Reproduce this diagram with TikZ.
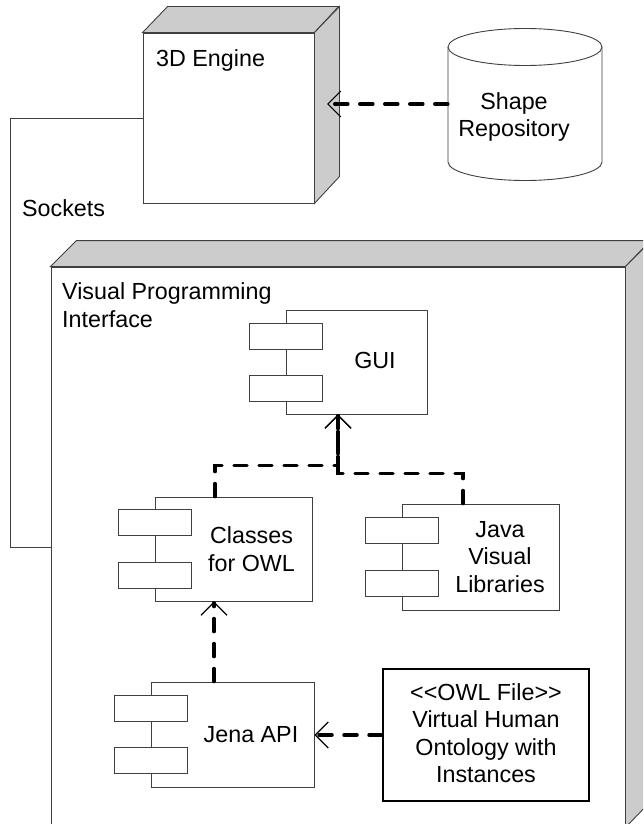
\documentclass[tikz,border=0pt]{standalone}
\usepackage{fontspec}
\setmainfont{Liberation Sans}
\usetikzlibrary{arrows.meta,calc}
\definecolor{facegrey}{RGB}{204,204,204}
\definecolor{edgegrey}{RGB}{64,64,64}
\begin{document}
\begin{tikzpicture}[x=1pt,y=-1pt,
  outline/.style={draw=edgegrey,line width=0.9pt},
  face/.style={outline,fill=white,inner sep=0pt},
  side/.style={outline,fill=facegrey},
  comp/.style={outline,fill=white,inner sep=0pt,minimum width=157pt,minimum height=105pt},
  port/.style={outline,fill=white,inner sep=0pt,minimum width=73pt,minimum height=26pt},
  lbl/.style={font=\fontsize{23.3}{27.5}\selectfont,inner sep=0pt,align=center},
  dep/.style={line width=3.5pt,line cap=round,dash pattern=on 13pt off 12pt,
    -{Straight Barb[length=13pt,width=26pt,line width=1.2pt,line cap=butt]}},
  wire/.style={outline}
]
\useasboundingbox (0,0) rectangle (643,824);
\clip (0,0) rectangle (643,824);

% 3D Engine
\node[face,minimum width=171pt,minimum height=170pt] (eng) at (228.5,118) {};
\draw[side] (eng.north west) -- ++(25,-26) -- ++(171,0) -- (eng.north east) -- cycle;
\draw[side] (eng.north east) -- ++(25,-26) -- ++(0,170) -- (eng.south east) -- cycle;
\node[lbl,anchor=base west] (engt) at (156,67) {3D Engine};

% Shape repository (cylinder)
\node[inner sep=0pt,minimum width=154pt,minimum height=152pt] (repo) at (525,104) {};
\draw[outline,fill=white] (448,47) -- (448,162) arc[start angle=180,end angle=0,x radius=77,y radius=18.5] -- (602,47);
\draw[outline] (525,47) ellipse [x radius=77,y radius=18.5];
\node[lbl] (repot) at (514,117) {Shape\\Repository};

% Visual Programming Interface
\node[face,minimum width=574pt,minimum height=560pt] (vpi) at (338,547) {};
\draw[side] (vpi.north west) -- ++(26,-26) -- ++(574,0) -- (vpi.north east) -- cycle;
\draw[side] (vpi.north east) -- ++(26,-26) -- ++(0,560) -- (vpi.south east) -- cycle;
\node[lbl,align=left,anchor=base west] (vpit) at (62,327) {Visual Programming\\Interface};

% Sockets connector
\coordinate (sockx) at (10,0);
\draw[wire] (eng.west) -- (eng.west -| sockx) |- (vpi.west);
\node[lbl,anchor=base west] (sockt) at (22,216) {Sockets};

% GUI component
\node[comp,minimum width=141pt,minimum height=104pt] (gui) at (356.5,362) {};
\node[port] (guip1) at ([yshift=26pt]gui.west) {};
\node[port] (guip2) at ([yshift=-26pt]gui.west) {};
\node[lbl] (guit) at (375,360) {GUI};

% Classes for OWL
\node[comp,minimum height=104pt] (cls) at (233.5,549) {};
\node[port] (clsp1) at ([yshift=26.5pt]cls.west) {};
\node[port] (clsp2) at ([yshift=-26pt]cls.west) {};
\node[lbl] (clst) at (251.5,549) {Classes\\for OWL};

% Java Visual Libraries
\node[comp,minimum height=106pt] (jav) at (481,557) {};
\node[port] (javp1) at ([yshift=27pt]jav.west) {};
\node[port] (javp2) at ([yshift=-26.5pt]jav.west) {};
\node[lbl] (javt) at (500,557) {Java\\Visual\\Libraries};

% Jena API
\node[comp,minimum width=163pt] (jena) at (232.5,734.5) {};
\node[port] (jenap1) at ([yshift=26pt]jena.west) {};
\node[port] (jenap2) at ([yshift=-26pt]jena.west) {};
\node[lbl] (jenat) at (251,735) {Jena API};

% OWL file
\node[draw=black,line width=2pt,fill=white,minimum width=206pt,minimum height=132pt,inner sep=0pt] (owl) at (486,735) {};
\node[lbl] (owlt) at (486,733) {<\kern0pt<OWL File>\kern0pt>\\Virtual Human\\Ontology with\\Instances};

% Dependencies
\coordinate (engmid) at (327,104);
\draw[dep] (repo.west) -- (engmid);
\draw[dep] ([xshift=-18.5pt]cls.north) -- ++(0,-31) -| ([xshift=-18.5pt]gui.south);
\draw[dep] ([xshift=-18pt]jav.north) -- ++(0,-30) -| ([xshift=-18.5pt]gui.south);
\draw[dep] ([xshift=-18.5pt]jena.north) -- ([xshift=-18.5pt]jena.north |- cls.south);
\draw[dep] (owl.west) -- (owl.west -| jena.east);
\end{tikzpicture}
\end{document}
